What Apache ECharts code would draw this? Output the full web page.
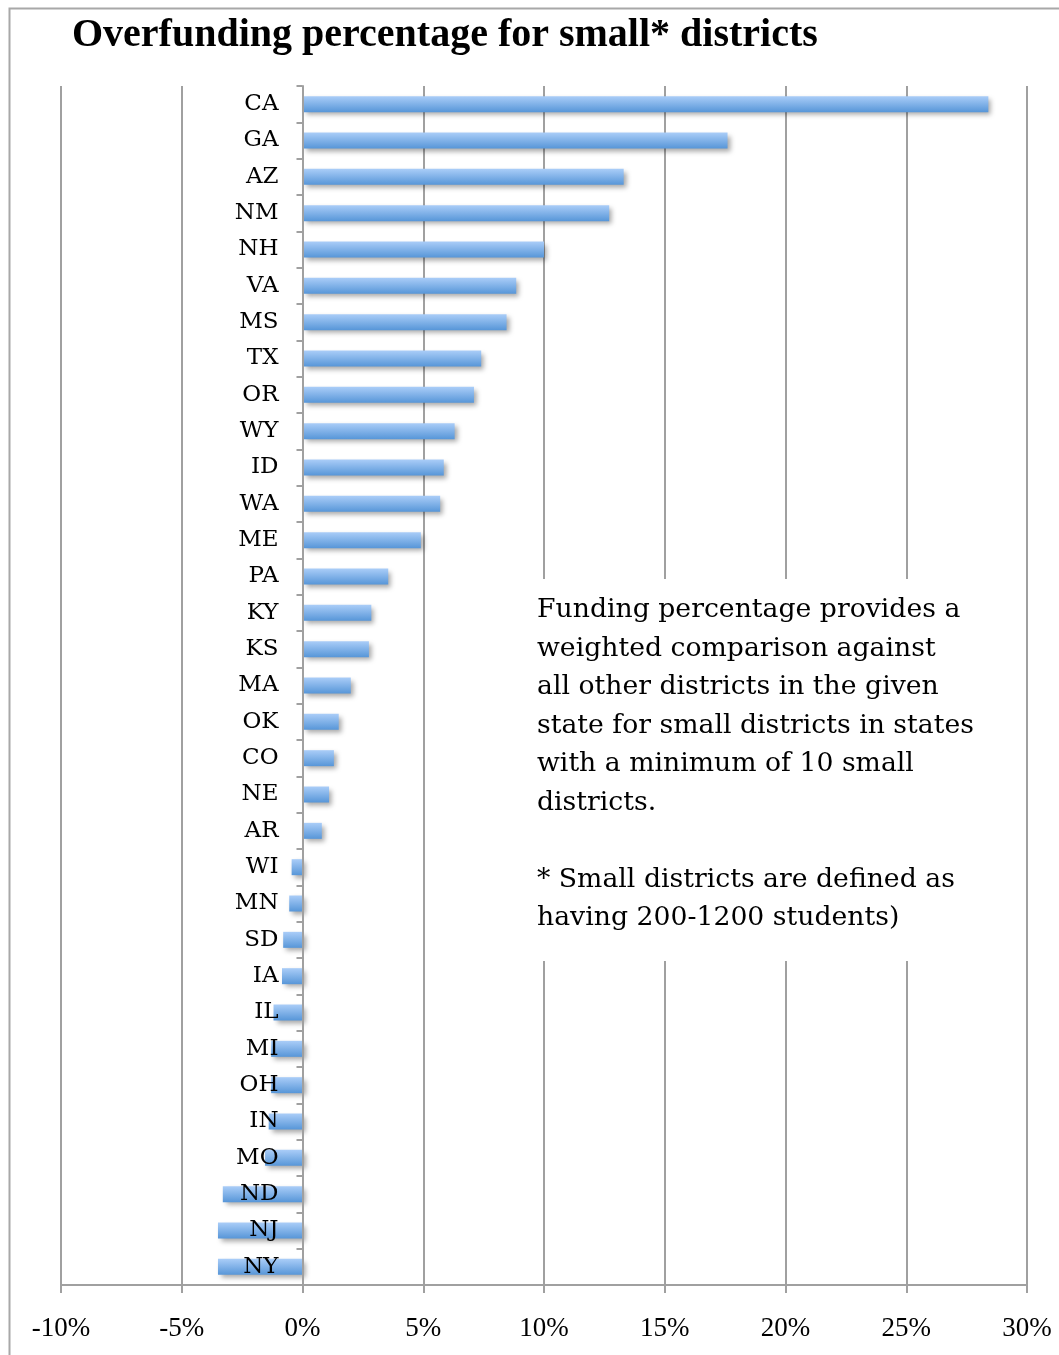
<!DOCTYPE html>
<html>
<head>
<meta charset="utf-8">
<script src="https://cdn.jsdelivr.net/npm/echarts@6/dist/echarts.min.js"></script>
<style>
  html, body { margin: 0; padding: 0; background: #fff; }
  #chart { width: 1059px; height: 1355px; }
</style>
</head>
<body>
<div id="chart"></div>
<script>
var states = ["CA", "GA", "AZ", "NM", "NH", "VA", "MS", "TX", "OR", "WY", "ID", "WA", "ME", "PA", "KY", "KS",
  "MA", "OK", "CO", "NE", "AR", "WI", "MN", "SD", "IA", "IL", "MI", "OH", "IN", "MO", "ND", "NJ", "NY"];
var overfunding = [28.4, 17.6, 13.3, 12.7, 10.0, 8.85, 8.45, 7.4, 7.1, 6.3, 5.85, 5.7, 4.9, 3.55, 2.85, 2.75,
  2.0, 1.5, 1.3, 1.1, 0.8, -0.45, -0.55, -0.8, -0.85, -1.2, -1.3, -1.3, -1.4, -1.55, -3.3, -3.5, -3.5];
var xTicks = { min: -10, max: 30, step: 5 };
var noteLines = [
  "Funding percentage provides a",
  "weighted comparison against",
  "all other districts in the given",
  "state for small districts in states",
  "with a minimum of 10 small",
  "districts.",
  "",
  "* Small districts are defined as",
  "having 200-1200 students)"
];

var chart = echarts.init(document.getElementById("chart"));
var serif = "'Liberation Serif', 'DejaVu Serif', serif";

// grid bounds, so the category axis can sit on the 0% line
var gridLeft = 61, gridRight = 32;
var plotWidth = 1059 - gridLeft - gridRight;
var zeroOffset = (0 - xTicks.min) / (xTicks.max - xTicks.min) * plotWidth;

var option = {
  backgroundColor: "#fff",
  animation: false,
  title: {
    text: "Overfunding percentage for small* districts",
    left: 72,
    top: 16,
    padding: 0,
    textStyle: { fontFamily: serif, fontSize: 40, fontWeight: "bold", color: "#000" }
  },
  grid: { left: gridLeft, right: gridRight, top: 86, bottom: 70, outerBoundsMode: "none" },
  xAxis: {
    type: "value",
    min: xTicks.min,
    max: xTicks.max,
    interval: xTicks.step,
    axisLine: { show: true, lineStyle: { color: "#a0a0a0", width: 2 } },
    axisTick: { show: true, length: 8, lineStyle: { color: "#a0a0a0", width: 2 } },
    axisLabel: {
      margin: 30,
      fontFamily: serif,
      fontSize: 27,
      color: "#000",
      formatter: "{value}%"
    },
    splitLine: { show: true, lineStyle: { color: "#a0a0a0", width: 2 } }
  },
  yAxis: {
    type: "category",
    data: states,
    inverse: true,
    position: "left",
    offset: -zeroOffset,
    axisLine: { show: true, onZero: false, lineStyle: { color: "#a0a0a0", width: 2 } },
    axisTick: { show: true, length: 6, lineStyle: { color: "#a0a0a0", width: 2 } },
    axisLabel: { margin: 24, fontFamily: "'DejaVu Serif', serif", fontSize: 23, color: "#000" },
    splitLine: { show: false },
    z: 3
  },
  series: [{
    type: "bar",
    data: overfunding,
    barWidth: 16,
    z: 1,
    itemStyle: {
      color: new echarts.graphic.LinearGradient(0, 0, 0, 1, [
        { offset: 0, color: "#aacdf8" },
        { offset: 1, color: "#5796d8" }
      ]),
      shadowColor: "rgba(0,0,0,0.35)",
      shadowBlur: 5,
      shadowOffsetX: 3,
      shadowOffsetY: 3
    }
  }],
  graphic: [
    {
      type: "rect",
      left: 7,
      top: 6,
      shape: { width: 1100, height: 1400 },
      style: { fill: null, stroke: "#a8a8a8", lineWidth: 2 },
      silent: true,
      z: -10
    },
    {
      type: "rect",
      left: 528,
      top: 579,
      shape: { width: 462, height: 382 },
      style: { fill: "#fff" },
      z: 50
    },
    {
      type: "text",
      left: 537,
      top: 591,
      z: 51,
      style: {
        text: noteLines.join("\n"),
        font: "26.7px 'DejaVu Serif', serif",
        lineHeight: 38.5,
        fill: "#000"
      }
    }
  ]
};
chart.setOption(option);
</script>
</body>
</html>
